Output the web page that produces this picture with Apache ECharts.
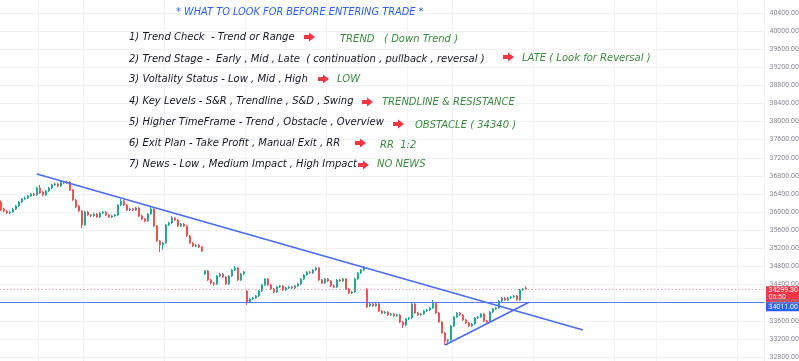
<!DOCTYPE html>
<html><head><meta charset="utf-8">
<script src="https://cdn.jsdelivr.net/npm/echarts@6/dist/echarts.min.js"></script>
<style>html,body{margin:0;padding:0;background:#fff}#c{width:799px;height:361px}</style>
</head><body><div id="c"></div>
<script>
// ---- data ----
const opens = [36225,36070,36026,35982,36004,36070,36137,36225,36291,36313,36358,36402,36380,36534,36446,36380,36468,36534,36600,36623,36578,36667,36645,36667,36490,36269,36137,36026,35717,36004,35938,35916,35960,35894,35982,36004,35938,35894,35916,35938,36159,36247,36159,36048,36070,36048,36092,35916,35850,35805,35960,36070,35695,35363,35275,35319,35717,35761,35872,35827,35695,35739,35695,35474,35319,35253,35275,35231,34634,34701,34502,34436,34414,34590,34634,34568,34414,34590,34723,34767,34502,34634,34259,34016,34082,34104,34149,34259,34392,34524,34392,34303,34237,34347,34370,34281,34325,34347,34325,34370,34414,34524,34612,34679,34657,34723,34767,34502,34436,34524,34480,34370,34347,34502,34480,34524,34303,34215,34237,34524,34657,34723,34303,33928,33972,33928,33972,33817,33773,33795,33729,33751,33707,33729,33574,33508,33641,33663,33972,33773,33729,33751,33817,33839,33884,33994,33773,33574,33331,33155,33177,33486,33685,33773,33729,33618,33552,33486,33530,33663,33685,33751,33596,33574,33795,33861,33884,34038,34104,34060,34104,34126,34149,34060,34281,34325];
const closes = [36048,36026,35982,36004,36070,36137,36225,36291,36313,36358,36402,36380,36534,36424,36380,36468,36534,36600,36623,36578,36667,36645,36667,36490,36269,36115,36026,35717,36004,35938,35916,35960,35894,35982,36004,35938,35894,35916,35938,36159,36247,36159,36048,36070,36048,36092,35916,35850,35805,35960,36070,35695,35363,35275,35319,35717,35761,35872,35827,35695,35739,35695,35474,35319,35253,35275,35231,35143,34701,34502,34436,34414,34590,34634,34568,34414,34590,34723,34767,34502,34634,34679,33994,34082,34104,34149,34259,34392,34524,34392,34303,34237,34347,34370,34281,34325,34347,34325,34370,34414,34524,34612,34679,34657,34723,34767,34502,34436,34524,34480,34370,34347,34502,34480,34524,34303,34215,34237,34524,34657,34723,34767,33906,33972,33928,33972,33817,33773,33795,33729,33751,33707,33729,33574,33508,33641,33663,33972,33773,33729,33751,33817,33839,33884,33994,33773,33574,33331,33155,33177,33486,33685,33773,33729,33618,33552,33486,33530,33663,33685,33751,33596,33574,33795,33861,33884,34038,34104,34060,34104,34126,34149,34060,34281,34303,34299.3];
const lows = [36020,35995,35960,35955,35985,36050,36115,36200,36270,36290,36335,36355,36360,36400,36350,36360,36445,36510,36580,36555,36560,36620,36625,36470,36245,36090,36000,35650,35695,35910,35890,35895,35870,35870,35960,35915,35870,35870,35895,35915,36135,36135,36025,36025,36025,36025,35895,35825,35780,35785,35940,35670,35340,35120,35165,35300,35695,35740,35805,35670,35670,35670,35450,35295,35230,35230,35205,35120,34610,34480,34410,34370,34390,34570,34545,34390,34390,34570,34700,34480,34480,34610,33950,33990,34060,34080,34125,34235,34370,34370,34280,34215,34215,34325,34260,34260,34303,34303,34303,34347,34392,34500,34590,34635,34635,34700,34480,34414,34414,34458,34347,34325,34325,34458,34458,34281,34190,34190,34215,34502,34635,34700,33884,33906,33906,33906,33795,33751,33751,33707,33707,33685,33685,33552,33442,33486,33618,33641,33751,33707,33707,33729,33795,33817,33861,33751,33552,33309,33066,33066,33155,33464,33663,33707,33596,33530,33464,33464,33508,33641,33663,33574,33552,33552,33773,33839,33861,34016,34038,34038,34082,34104,34038,34038,34259,34281];
const highs = [36260,36100,36045,36030,36090,36160,36245,36315,36345,36380,36425,36430,36560,36600,36470,36490,36560,36625,36650,36645,36690,36690,36700,36685,36510,36290,36160,36045,36030,36030,35960,35985,35985,36005,36030,36025,35960,35940,35960,36180,36290,36270,36180,36095,36095,36115,36115,35940,35870,35980,36137,36095,35715,35385,35345,35740,35785,35915,35895,35850,35760,35760,35715,35495,35340,35300,35300,35255,34725,34725,34525,34460,34615,34660,34655,34590,34610,34745,34811,34790,34660,34700,34280,34105,34130,34170,34280,34415,34545,34545,34415,34325,34370,34392,34392,34347,34370,34370,34392,34436,34545,34635,34700,34700,34745,34790,34790,34524,34545,34545,34502,34392,34524,34524,34545,34545,34325,34260,34545,34679,34745,34811,34325,33994,33994,33994,33994,33839,33817,33817,33773,33773,33751,33751,33596,33663,33685,33994,33994,33795,33773,33839,33861,33906,34060,34016,33795,33596,33353,33199,33508,33707,33795,33795,33751,33641,33574,33552,33685,33707,33773,33773,33618,33817,33884,33906,34060,34126,34126,34126,34149,34170,34170,34303,34325,34360];
const totalSlots = 255;
const categories = Array.from({length: totalSlots}, (_, i) => String(i));
const yTicks = {min: 32400, max: 40800, step: 400};
const vGridIdx = [13, 28, 55, 82, 109, 136, 151, 178, 205, 219, 246];
const lastPrice = 34299.3, lastTimer = '06:50';
const levelPrice = 34011;
const downTrend = [[12, 36843], [194, 33397]];
const upTrend = [[148, 33066], [176, 34010]];
const title = '* WHAT TO LOOK FOR BEFORE ENTERING TRADE *';
const rows = [
  ['1) Trend Check  - Trend or Range', 'TREND   ( Down Trend )'],
  ['2) Trend Stage -  Early , Mid , Late  ( continuation , pullback , reversal )', 'LATE ( Look for Reversal )'],
  ['3) Voltality Status - Low , Mid , High', 'LOW'],
  ['4) Key Levels - S&R , Trendline , S&D , Swing', 'TRENDLINE & RESISTANCE'],
  ['5) Higher TimeFrame - Trend , Obstacle , Overview', 'OBSTACLE ( 34340 )'],
  ['6) Exit Plan - Take Profit , Manual Exit , RR', 'RR  1:2'],
  ['7) News - Low , Medium Impact , High Impact', 'NO NEWS']
];

// ---- layout of annotations (pixels) ----
const rowY = [37, 59, 79, 101, 122, 143, 164];
const greenPos = [[340,39],[522,58],[337,79],[382,102],[415,125],[380,145],[377,164]];
const arrowPos = [[304,37],[503,57],[318,79],[362,102],[393,124],[355,143],[358,165]];

const candleData = opens.map((o, i) => [o, closes[i], lows[i], highs[i]]);

function lineOnly(name, mlData, lineStyle) {
  return {type: 'line', name: name, data: [], silent: true, z: 3,
    markLine: {silent: true, symbol: ['none', 'none'], animation: false, label: {show: false},
      emphasis: {disabled: true}, lineStyle: lineStyle, data: mlData}};
}

const chart = echarts.init(document.getElementById('c'), null, {renderer: 'canvas'});
const option = {
  animation: false,
  backgroundColor: '#ffffff',
  grid: {left: -0.5, right: 34.5, top: -5.1, bottom: -14.1, containLabel: false, outerBoundsMode: 'none'},
  xAxis: {
    type: 'category', data: categories, boundaryGap: true,
    axisLine: {show: false}, axisTick: {show: false}, axisLabel: {show: false},
    splitLine: {show: true, interval: (idx) => vGridIdx.includes(idx), lineStyle: {color: '#f0f2f6', width: 1}}
  },
  yAxis: {
    type: 'value', position: 'right', min: yTicks.min, max: yTicks.max, interval: yTicks.step,
    axisLine: {show: false}, axisTick: {show: false},
    axisLabel: {show: true, margin: 5, color: '#878a93', fontSize: 7, fontFamily: 'Roboto',
      padding: [7, 0, 0, 0], formatter: (v) => v.toFixed(2)},
    splitLine: {show: true, lineStyle: {color: '#f0f2f6', width: 1}}
  },
  series: [
    {
      type: 'candlestick', data: candleData, barWidth: 2.2, z: 2,
      itemStyle: {color: '#26a69a', color0: '#ef5350', borderColor: '#26a69a', borderColor0: '#ef5350', borderWidth: 1}
    },
    lineOnly('last', [{yAxis: lastPrice}], {color: '#f58a92', type: [1.5, 2], width: 1, opacity: 0.8}),
    lineOnly('level', [{yAxis: levelPrice}], {color: '#5b7cfa', type: 'solid', width: 1}),
    lineOnly('down', [[{coord: downTrend[0]}, {coord: downTrend[1]}]], {color: '#4a6cf7', type: 'solid', width: 1.6}),
    lineOnly('up', [[{coord: upTrend[0]}, {coord: upTrend[1]}]], {color: '#4a6cf7', type: 'solid', width: 1.6})
  ]
};
chart.setOption(option);

const pyLast = chart.convertToPixel({yAxisIndex: 0}, lastPrice);
const pyLevel = chart.convertToPixel({yAxisIndex: 0}, levelPrice);
const font = 'italic 10px "DejaVu Sans"';
const g = [];
g.push({type: 'text', style: {text: title, x: 176, y: 12, font: 'italic 9.8px "DejaVu Sans"', fill: '#2962ff', verticalAlign: 'middle'}});
rows.forEach((r, k) => {
  g.push({type: 'text', style: {text: r[0], x: 129, y: rowY[k], font: font, fill: '#131722', verticalAlign: 'middle'}});
  g.push({type: 'text', style: {text: r[1], x: greenPos[k][0], y: greenPos[k][1], font: font, fill: '#388e3c', verticalAlign: 'middle'}});
  const ax = arrowPos[k][0], ay = arrowPos[k][1];
  g.push({type: 'polygon', shape: {points: [[ax, ay-2], [ax+5, ay-2], [ax+5, ay-4.5], [ax+11, ay], [ax+5, ay+4.5], [ax+5, ay+2], [ax, ay+2]]}, style: {fill: '#f23645'}});
});
// price tags
g.push({type: 'rect', shape: {x: 766, y: pyLast - 3, width: 33, height: 16}, style: {fill: '#f23645'}});
g.push({type: 'text', style: {text: lastPrice.toFixed(2), x: 768.5, y: pyLast + 1, font: '7px Roboto', fill: '#ffffff', verticalAlign: 'middle'}});
g.push({type: 'text', style: {text: lastTimer, x: 768.5, y: pyLast + 8.5, font: '7px Roboto', fill: '#ffe9ea', verticalAlign: 'middle'}});
g.push({type: 'rect', shape: {x: 766, y: pyLevel, width: 33, height: 9}, style: {fill: '#2962ff'}});
g.push({type: 'text', style: {text: levelPrice.toFixed(2), x: 768.5, y: pyLevel + 4.7, font: '7px Roboto', fill: '#ffffff', verticalAlign: 'middle'}});
chart.setOption({graphic: g});
</script></body></html>
